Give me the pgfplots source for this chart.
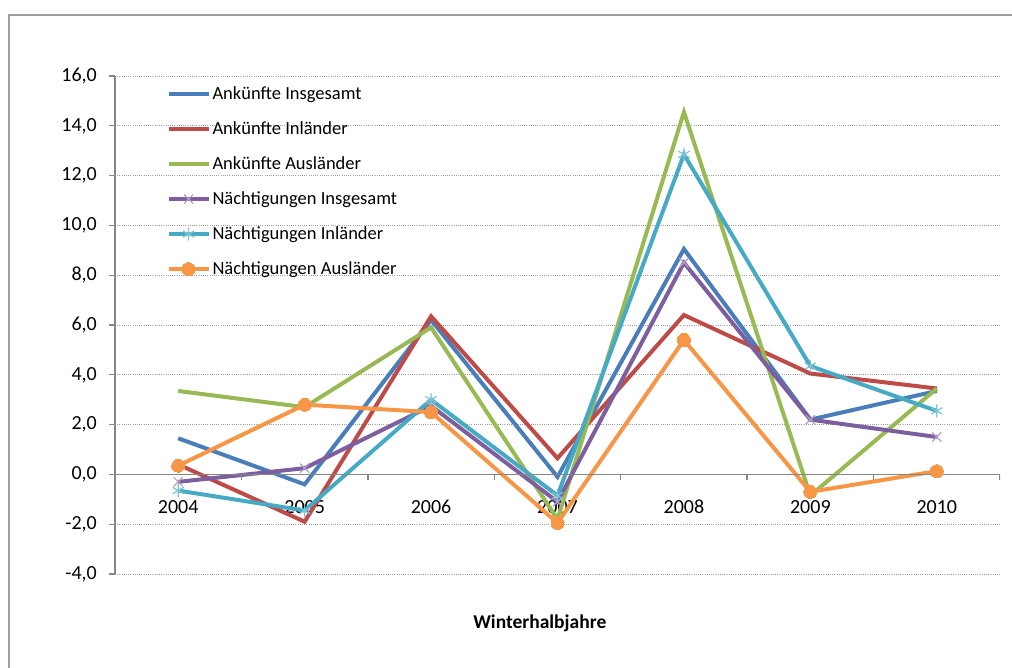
\documentclass[border=0pt]{standalone}
\usepackage{pgfplots}
\pgfplotsset{compat=1.18}
\usepackage{fontspec}
\setmainfont{Carlito}
\definecolor{cblue}{HTML}{4A7EBB}
\definecolor{cred}{HTML}{BE4B48}
\definecolor{cgreen}{HTML}{98B954}
\definecolor{cpurple}{HTML}{7D5FA0}
\definecolor{ccyan}{HTML}{46AAC5}
\definecolor{corange}{HTML}{F79646}
\definecolor{axgray}{HTML}{868686}
\begin{document}
\fontsize{18}{22}\selectfont
\begin{tikzpicture}[x=1pt,y=1pt]
\path[use as bounding box] (0,0) rectangle (1012,668);
\draw[color=axgray!80, line width=1.5pt] (9,-10) rectangle (1030,653);
\begin{axis}[
  at={(115pt,94pt)}, anchor=south west,
  scale only axis, width=885pt, height=498pt,
  xmin=-0.5, xmax=6.5, ymin=-4, ymax=16,
  xtick={0,...,6}, xticklabels={2004,2005,2006,2007,2008,2009,2010},
  ytick={-4,-2,...,16},
  axis x line*=bottom, axis y line*=left,
  x axis line style={draw=none},
  y axis line style={color=axgray, line width=1.3pt},
  major x tick style={draw=none},
  major y tick style={color=axgray, line width=1.3pt},
  y tick label style={font=\fontsize{20}{24}\selectfont, anchor=east, xshift=-6pt},
  x tick label style={font=\fontsize{20}{24}\selectfont, anchor=center, yshift=73pt},
  tick align=outside, major tick length=6pt,
  /pgf/number format/.cd, fixed, fixed zerofill, precision=1, use comma, assume math mode=true,
  /pgfplots/.cd,
  ymajorgrids, grid style={color=axgray!80, line width=0.9pt, dash pattern=on 1pt off 1.2pt},
  xlabel={\bfseries Winterhalbjahre},
  xlabel style={at={(axis description cs:0.48,0)}, anchor=center, yshift=-49pt, font=\fontsize{19.5}{23}\selectfont},
  legend style={at={(axis description cs:0.058,0.984)}, anchor=north west, draw=none, fill=none,
    font=\fontsize{18.5}{22}\selectfont, row sep=15.5pt, inner sep=0pt},
  legend cell align=left,
  legend image code/.code={\draw[mark repeat=2,mark phase=2,#1] plot coordinates {(0pt,0pt)(20pt,0pt)(40pt,0pt)};},
  every axis plot/.append style={line width=4pt},
]
\addplot[cblue, mark=none] coordinates {(0,1.45)(1,-0.4)(2,6.2)(3,-0.1)(4,9.05)(5,2.2)(6,3.35)};
\addplot[cred, mark=none] coordinates {(0,0.4)(1,-1.9)(2,6.35)(3,0.65)(4,6.4)(5,4.05)(6,3.45)};
\addplot[cgreen, mark=none] coordinates {(0,3.35)(1,2.7)(2,5.9)(3,-1.8)(4,14.55)(5,-0.85)(6,3.45)};
\addplot[cpurple, mark=x, mark size=6.5pt, mark options={color=cpurple!60, line width=1.2pt}] coordinates {(0,-0.3)(1,0.25)(2,2.75)(3,-1.1)(4,8.5)(5,2.2)(6,1.5)};
\addplot[ccyan, mark=asterisk, mark size=6.5pt, mark options={color=ccyan!70, line width=1.2pt}] coordinates {(0,-0.65)(1,-1.45)(2,3.0)(3,-0.85)(4,12.85)(5,4.35)(6,2.55)};
\addplot[corange, mark=*, mark size=6.5pt, mark options={fill=corange, draw=corange, line width=0pt}] coordinates {(0,0.35)(1,2.8)(2,2.5)(3,-1.95)(4,5.4)(5,-0.7)(6,0.13)};
\legend{Ankünfte Insgesamt, Ankünfte Inländer, Ankünfte Ausländer, Nächtigungen Insgesamt, Nächtigungen Inländer, Nächtigungen Ausländer}
\draw[color=axgray, line width=1.3pt] (axis cs:-0.5,0) -- (axis cs:6.5,0);
\pgfplotsinvokeforeach{0.5,1.5,2.5,3.5,4.5,5.5,6.5}{
  \draw[color=axgray, line width=1.3pt] (axis cs:#1,0) -- ++(0pt,-6pt);
}
\end{axis}
\end{tikzpicture}
\end{document}
